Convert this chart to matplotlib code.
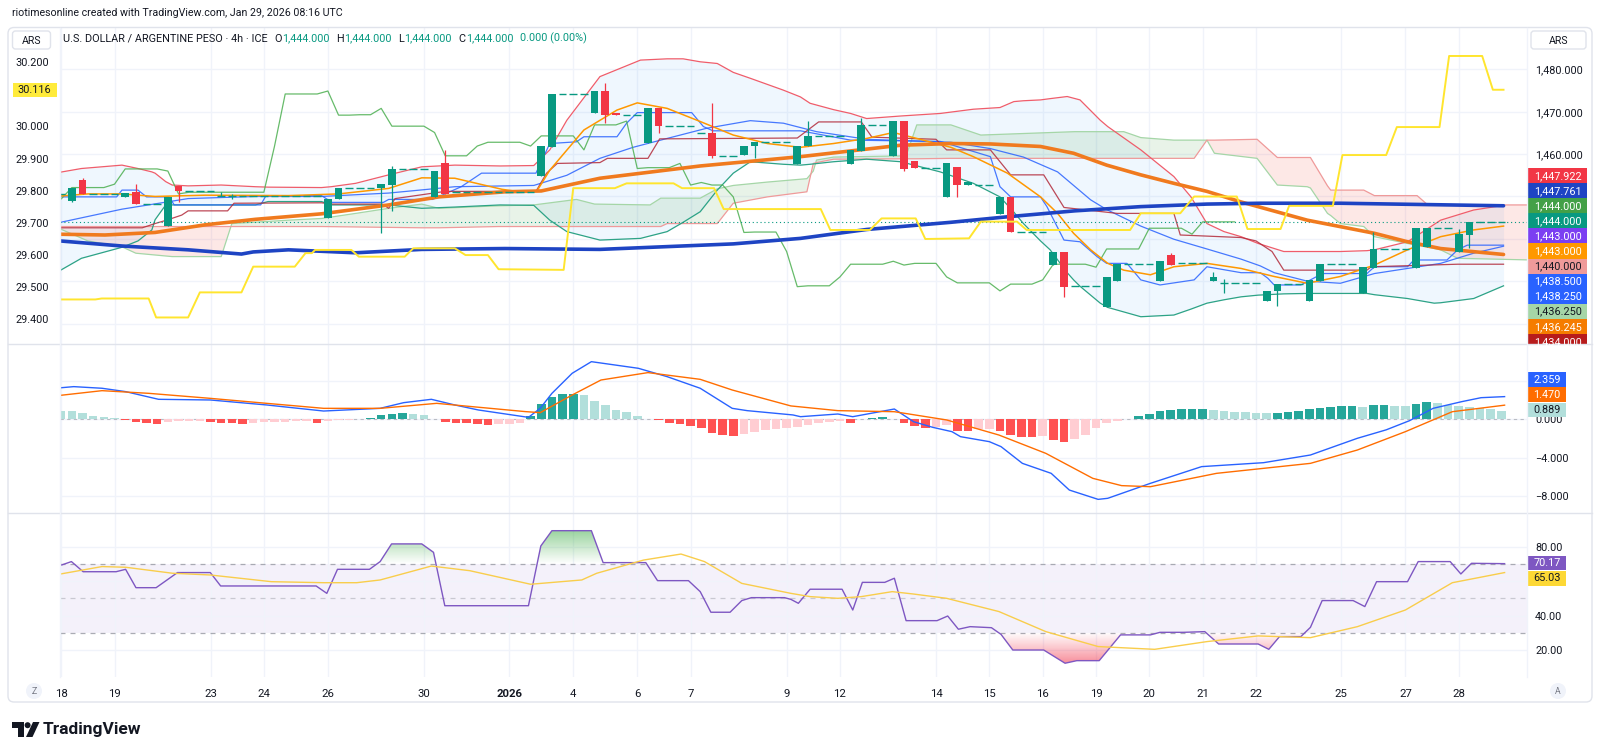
import matplotlib

matplotlib.use("Agg")

import matplotlib.pyplot as plt
import numpy as np
from matplotlib.colors import LinearSegmentedColormap
from matplotlib.patches import Circle, FancyBboxPatch, Polygon, Rectangle
from matplotlib.path import Path

plt.rcParams["font.family"] = ["Roboto", "DejaVu Sans"]

TEXT = "#131722"
UP = "#089981"
DOWN = "#F23645"
GRID = "#F0F3FA"
BORDER = "#E0E3EB"

# ---------------------------------------------------------------- candles (4h bars)
OPEN = [
    1450.6, 1449.0, 1453.9, 1450.5, 1450.5, 1450.5, 1449.9, 1451.0, 1448.3, 1448.3,
    1443.1, 1452.5, 1451.3, 1451.3, 1451.3, 1450.0, 1450.0, 1450.0, 1450.0, 1450.0,
    1450.0, 1450.0, 1450.0, 1450.0, 1450.0, 1445.0, 1449.4, 1452.1, 1452.1, 1452.1,
    1451.9, 1452.7, 1456.5, 1456.5, 1456.5, 1449.8, 1457.8, 1451.0, 1451.0, 1451.0,
    1451.0, 1451.0, 1451.0, 1451.0, 1451.0, 1454.8, 1461.7, 1474.2, 1474.2, 1474.2,
    1469.6, 1474.9, 1469.6, 1469.3, 1469.3, 1462.7, 1470.8, 1466.6, 1466.6, 1466.6,
    1465.1, 1464.9, 1459.6, 1459.6, 1459.7, 1461.8, 1462.8, 1462.8, 1462.8, 1457.7,
    1461.9, 1464.3, 1464.3, 1464.3, 1457.7, 1460.7, 1466.9, 1466.9, 1459.6, 1467.8,
    1458.4, 1456.8, 1456.8, 1449.8, 1456.9, 1452.7, 1452.7, 1452.7, 1445.9, 1449.9,
    1441.6, 1441.6, 1441.6, 1433.8, 1437.0, 1428.9, 1428.9, 1428.9, 1424.0, 1430.1,
    1434.0, 1434.0, 1434.0, 1430.1, 1436.2, 1434.2, 1434.2, 1434.2, 1430.1, 1429.6,
    1429.6, 1429.6, 1429.6, 1425.2, 1427.7, 1429.3, 1429.3, 1425.2, 1430.1, 1434.0,
    1434.0, 1434.0, 1427.1, 1433.0, 1437.6, 1437.6, 1437.6, 1433.0, 1438.0, 1442.5,
    1442.5, 1437.0, 1440.9, 1444.0, 1444.0, 1444.0,
]
HIGH = [
    1450.6, 1452.1, 1454.3, 1450.5, 1450.5, 1450.5, 1450.9, 1452.9, 1448.3, 1448.3,
    1449.9, 1452.5, 1451.3, 1451.3, 1451.3, 1451.1, 1450.6, 1450.0, 1450.0, 1450.0,
    1450.0, 1450.0, 1450.0, 1450.0, 1450.0, 1449.4, 1452.1, 1452.1, 1452.1, 1452.1,
    1452.9, 1457.2, 1456.5, 1456.5, 1456.5, 1456.0, 1461.0, 1451.0, 1451.0, 1451.0,
    1451.0, 1451.0, 1451.0, 1451.0, 1451.0, 1461.9, 1474.2, 1474.2, 1474.2, 1474.2,
    1474.9, 1476.7, 1469.6, 1469.3, 1469.3, 1470.8, 1470.8, 1466.6, 1466.6, 1466.6,
    1465.1, 1472.0, 1459.6, 1459.6, 1461.9, 1462.8, 1462.8, 1462.8, 1462.8, 1461.9,
    1467.8, 1464.3, 1464.3, 1464.3, 1461.0, 1468.5, 1466.9, 1466.9, 1467.8, 1467.8,
    1458.4, 1456.8, 1456.8, 1457.8, 1456.9, 1453.3, 1452.7, 1452.7, 1449.9, 1449.9,
    1441.6, 1441.6, 1441.6, 1437.0, 1437.0, 1428.9, 1428.9, 1428.9, 1431.0, 1434.0,
    1434.0, 1434.0, 1434.0, 1434.7, 1436.7, 1434.2, 1434.2, 1434.2, 1432.2, 1430.6,
    1429.6, 1429.6, 1429.6, 1427.7, 1429.3, 1429.3, 1429.3, 1430.3, 1434.0, 1434.0,
    1434.0, 1434.0, 1433.3, 1441.7, 1437.6, 1437.6, 1437.6, 1442.5, 1442.5, 1442.5,
    1442.5, 1442.2, 1444.0, 1444.0, 1444.0, 1444.0,
]
LOW = [
    1450.6, 1448.8, 1450.5, 1450.5, 1450.5, 1450.5, 1449.9, 1448.2, 1448.3, 1448.3,
    1443.1, 1448.6, 1451.3, 1451.3, 1451.3, 1450.0, 1449.3, 1450.0, 1450.0, 1450.0,
    1450.0, 1450.0, 1450.0, 1450.0, 1450.0, 1445.0, 1449.4, 1452.1, 1452.1, 1452.1,
    1441.3, 1446.6, 1456.5, 1456.5, 1456.5, 1449.8, 1450.6, 1451.0, 1451.0, 1451.0,
    1451.0, 1451.0, 1451.0, 1451.0, 1451.0, 1454.8, 1461.7, 1474.2, 1474.2, 1474.2,
    1469.6, 1467.3, 1469.2, 1469.3, 1469.3, 1462.7, 1465.1, 1466.6, 1466.6, 1466.6,
    1465.1, 1459.0, 1459.6, 1459.6, 1459.7, 1459.0, 1462.8, 1462.8, 1462.8, 1457.7,
    1461.9, 1464.3, 1464.3, 1464.3, 1457.7, 1460.7, 1466.9, 1466.9, 1459.6, 1456.1,
    1456.8, 1456.8, 1456.8, 1449.8, 1449.9, 1452.7, 1452.7, 1452.7, 1445.9, 1441.5,
    1441.6, 1441.6, 1441.6, 1433.8, 1426.3, 1428.9, 1428.9, 1428.9, 1424.0, 1430.1,
    1434.0, 1434.0, 1434.0, 1430.1, 1433.8, 1434.2, 1434.2, 1434.2, 1430.1, 1427.2,
    1429.6, 1429.6, 1429.6, 1425.2, 1424.1, 1429.3, 1429.3, 1425.2, 1430.1, 1434.0,
    1434.0, 1434.0, 1427.1, 1433.0, 1437.6, 1437.6, 1437.6, 1433.0, 1438.0, 1442.5,
    1442.5, 1437.0, 1437.8, 1444.0, 1444.0, 1444.0,
]
CLOSE = [
    1450.6, 1452.1, 1450.5, 1450.5, 1450.5, 1450.5, 1450.9, 1448.2, 1448.3, 1448.3,
    1449.9, 1451.3, 1451.3, 1451.3, 1451.3, 1450.0, 1450.0, 1450.0, 1450.0, 1450.0,
    1450.0, 1450.0, 1450.0, 1450.0, 1450.0, 1449.4, 1452.1, 1452.1, 1452.1, 1452.1,
    1452.9, 1456.5, 1456.5, 1456.5, 1456.5, 1456.0, 1450.6, 1451.0, 1451.0, 1451.0,
    1451.0, 1451.0, 1451.0, 1451.0, 1451.0, 1461.9, 1474.2, 1474.2, 1474.2, 1474.2,
    1474.9, 1469.2, 1469.2, 1469.3, 1469.3, 1470.8, 1466.6, 1466.6, 1466.6, 1466.6,
    1465.1, 1459.6, 1459.6, 1459.6, 1461.9, 1462.8, 1462.8, 1462.8, 1462.8, 1461.9,
    1464.3, 1464.3, 1464.3, 1464.3, 1461.0, 1466.9, 1466.9, 1466.9, 1467.8, 1456.6,
    1456.8, 1456.8, 1456.8, 1457.8, 1452.7, 1453.3, 1452.7, 1452.7, 1449.9, 1441.5,
    1441.6, 1441.6, 1441.6, 1437.0, 1428.7, 1428.9, 1428.9, 1428.9, 1431.0, 1434.0,
    1434.0, 1434.0, 1434.0, 1434.7, 1433.8, 1434.2, 1434.2, 1434.2, 1431.0, 1429.6,
    1429.6, 1429.6, 1429.6, 1427.7, 1429.3, 1429.3, 1429.3, 1430.3, 1434.0, 1434.0,
    1434.0, 1434.0, 1433.3, 1437.6, 1437.6, 1437.6, 1437.6, 1442.5, 1442.5, 1442.5,
    1442.5, 1441.1, 1444.0, 1444.0, 1444.0, 1444.0,
]
LAG_SHIFT = 25

# ---------------------------------------------------------------- overlay lines (bar index, value)
EMA200_X = [-0.6, 5.7, 11.9, 16.9, 18, 21.3, 27.6, 33.8, 41.6, 50.5, 63, 69.3, 75.5,
            83.4, 88.7, 95, 101.2, 107.4, 112.4, 119.9, 135.2]
EMA200_V = [1439.6, 1438.3, 1437.4, 1436.4, 1436.9, 1437.4, 1436.7, 1437.5, 1437.7, 1437.5,
            1438.8, 1440.1, 1442.2, 1443.9, 1445.2, 1446.6, 1447.6, 1448.2, 1448.4, 1448.4, 1447.8]

EMA50_X = [-0.6, 4.1, 8.8, 13.5, 18.2, 24.4, 30.7, 35.4, 41.6, 45, 50.5, 59.9, 69.3, 78.7,
           83.4, 87.1, 91.8, 94.9, 98.0, 101.2, 104.3, 107.4, 110.6, 116.8, 123.1, 126.2,
           129.3, 135.2]
EMA50_V = [1441.1, 1440.9, 1441.5, 1443.3, 1444.6, 1445.9, 1448.0, 1449.9, 1451.1, 1451.3,
           1454.3, 1457.2, 1459.4, 1462.1, 1462.5, 1462.4, 1461.8, 1460.2, 1457.4, 1455.1,
           1453.1, 1451.2, 1448.7, 1444.4, 1441.3, 1439.3, 1437.7, 1436.3]

FAST_X = [-0.6, 2.5, 5.7, 8.8, 13.5, 21.3, 26, 30.7, 33.8, 36.9, 41.3, 43, 44.6, 45.8, 49,
          52.1, 54, 56.8, 59.9, 63, 66.2, 69.3, 72.4, 75.5, 78, 80.2, 83.4, 85.5, 88.7, 91.8,
          93.4, 94.9, 96.5, 98.1, 99.6, 102.1, 104.3, 107.4, 110.6, 113.7, 116.8, 119.9,
          123.1, 126.2, 129.3, 132.4, 135.2]
FAST_V = [1450.0, 1450.6, 1450.6, 1450.0, 1450.3, 1450.2, 1450.6, 1451.9, 1454.4, 1454.3,
          1451.7, 1451.1, 1451.3, 1456.2, 1465.7, 1470.4, 1472.1, 1470.8, 1467.7, 1464.5,
          1462.5, 1461.6, 1462.5, 1463.7, 1465.1, 1463.7, 1461.6, 1459.4, 1455.5, 1449.9,
          1446.0, 1441.3, 1437.4, 1434.2, 1432.6, 1431.5, 1433.4, 1434.2, 1433.0, 1431.1,
          1429.5, 1431.1, 1433.8, 1437.4, 1440.5, 1442.1, 1443.0]

BASIS_X = [-0.6, 5.7, 11.9, 18.2, 24.4, 30.7, 36.9, 44.3, 47.4, 50.5, 53.6, 56.8, 60.5,
           64.6, 67.7, 70.8, 75.5, 83.4, 87.1, 90.2, 93.4, 96.5, 98.0, 101.2, 104.3, 107.4,
           110.6, 112.4, 113.7, 116.8, 119.9, 123.1, 126.2, 129.3, 132.4, 135.2]
BASIS_V = [1443.6, 1447.0, 1449.5, 1450.0, 1450.0, 1450.8, 1452.3, 1452.6, 1455.0, 1459.0,
           1461.6, 1463.7, 1466.1, 1467.9, 1467.3, 1465.3, 1463.5, 1462.8, 1461.3, 1459.3,
           1455.8, 1449.2, 1446.9, 1443.0, 1439.9, 1437.6, 1435.2, 1433.6, 1432.0, 1430.0,
           1429.5, 1431.8, 1433.0, 1434.2, 1436.6, 1438.25]

BB_X = [-0.6, 1.9, 5.7, 7.2, 8.5, 8.8, 9.8, 10.4, 11.9, 15, 18.2, 19.4, 24.4, 25.3, 27.6,
        30.7, 33.8, 36.9, 41.15, 44.3, 45.8, 47.4, 50.5, 54.3, 56.8, 58.3, 59.9, 61.5, 63,
        64.6, 67.7, 69.3, 70.2, 72.4, 74, 75.5, 78.7, 82.4, 85.5, 88, 89.3, 90.2, 91.8,
        92.7, 94.3, 94.9, 95.5, 97.4, 98.1, 101.2, 104.3, 105.9, 107.4, 109, 110.6, 112.2,
        114.6, 116.8, 119.9, 122.4, 123.1, 126.2, 128.7, 129.3, 132.4, 135.2]
BB_UP = [1455.5, 1456.6, 1457.4, 1456.6, 1455.8, 1455.5, 1453.5, 1452.7, 1452.5, 1452.7,
         1452.3, 1452.2, 1452.1, 1452.3, 1453.1, 1455.1, 1457.0, 1457.4, 1457.2, 1457.3,
         1461.0, 1468.0, 1478.3, 1482.2, 1482.5, 1482.5, 1481.8, 1481.4, 1479.3, 1477.9,
         1475.1, 1473.5, 1472.0, 1470.5, 1469.6, 1468.4, 1469.0, 1469.6, 1470.6, 1471.0,
         1472.4, 1472.6, 1472.8, 1473.1, 1473.6, 1473.2, 1472.8, 1468.0, 1466.5, 1461.0,
         1454.7, 1449.9, 1443.6, 1441.7, 1440.5, 1438.9, 1437.0, 1437.0, 1437.0, 1437.2,
         1437.4, 1439.3, 1443.4, 1444.4, 1446.8, 1447.9]
BB_LO = [1431.8, 1435.4, 1438.0, 1439.5, 1442.1, 1444.5, 1448.0, 1448.0, 1448.0, 1448.0,
         1448.0, 1448.8, 1448.8, 1448.0, 1448.0, 1448.0, 1447.2, 1447.5, 1448.0, 1447.9,
         1444.4, 1441.7, 1439.7, 1440.1, 1441.7, 1443.9, 1446.4, 1451.5, 1455.5, 1458.2,
         1457.6, 1457.4, 1457.6, 1458.2, 1458.5, 1458.8, 1458.2, 1455.8, 1453.1, 1449.9,
         1446.3, 1443.6, 1439.5, 1437.4, 1432.0, 1430.3, 1428.8, 1424.8, 1423.8, 1421.6,
         1422.0, 1423.4, 1424.8, 1425.6, 1426.3, 1426.7, 1427.0, 1427.1, 1427.1, 1427.1,
         1426.8, 1425.9, 1424.8, 1424.9, 1425.9, 1428.9]

CONV_X = [-0.6, 5.2, 5.7, 7.2, 8, 10.1, 10.6, 18.7, 19.2, 24.4, 25.4, 30.2, 30.7, 34.8,
          37.5, 39.4, 44.5, 45.8, 48.3, 49, 52.1, 53, 54, 59.1, 60.2, 61.1, 69.3, 74, 82.4,
          87.1, 88.0, 89, 91.8, 92.4, 94, 95.5, 97.1, 98, 99.9, 101.2, 103, 106.2, 107.4,
          110.6, 112.4, 113.1, 113.7, 116.2, 117.7, 118.4, 122.4, 123.1, 126.2, 126.8,
          129.9, 130.9, 131.8, 135.2]
CONV_V = [1449.9, 1449.9, 1451.5, 1451.5, 1449.9, 1449.9, 1448.0, 1448.0, 1450.2, 1450.2,
          1448.6, 1448.6, 1449.3, 1449.3, 1452.3, 1455.5, 1455.5, 1462.5, 1462.9, 1464.1,
          1464.1, 1467.3, 1469.8, 1469.8, 1466.5, 1465.5, 1465.5, 1463.3, 1463.0, 1459.4,
          1452.3, 1449.9, 1449.9, 1447.6, 1439.7, 1439.3, 1435.8, 1434.2, 1434.2, 1430.3,
          1429.1, 1430.3, 1433.4, 1432.0, 1432.0, 1430.7, 1429.1, 1429.1, 1431.1, 1431.8,
          1431.8, 1433.4, 1433.4, 1435.0, 1435.0, 1437.4, 1438.5, 1438.5]

BASE_X = [-0.6, 7.6, 8.8, 10, 11.3, 11.9, 15.6, 16.2, 24.4, 25.4, 30.1, 30.7, 31.3, 36,
          44.5, 45.5, 46.5, 50.5, 51.2, 55, 56.1, 69, 71, 75, 76, 82, 83, 87.1, 89, 92.1,
          94, 99, 104.3, 104.9, 110.6, 112, 113.5, 114.6, 122.4, 122.8, 130.9, 135.2]
BASE_V = [1442.6, 1442.6, 1443.6, 1444.5, 1445.6, 1446.6, 1446.6, 1448.4, 1448.5, 1448.2,
          1448.2, 1447.2, 1449.5, 1451.2, 1451.2, 1455.5, 1457.8, 1458.0, 1459.0, 1459.0,
          1463.6, 1463.8, 1467.6, 1467.6, 1464.0, 1463.5, 1461.0, 1461.0, 1455.1, 1455.1,
          1447.4, 1446.0, 1446.0, 1440.9, 1440.3, 1439.5, 1437.0, 1432.6, 1432.6, 1433.4,
          1434.0, 1434.0]

CLOUD_X = [-0.6, 2.5, 5.7, 7, 10.4, 15, 16, 21.3, 24.4, 27.6, 30.7, 33.8, 35.4, 41, 44.3,
           48.3, 50, 55.2, 56.2, 56.8, 59.9, 61.5, 63, 66.2, 69.9, 70.5, 70.8, 72.4, 79.2,
           80.2, 83.4, 86.2, 95, 99.6, 101.2, 104.3, 106.2, 107.4, 108.1, 112.1, 114, 116.8,
           117.1, 118.7, 119, 119.9, 122.1, 123.1, 126.2, 127.1, 128.1, 129.3, 130.9, 137.8]
SPAN_A = [1442.9, 1439.5, 1438.1, 1436.6, 1435.8, 1435.8, 1443.6, 1444.4, 1444.8, 1446.0,
          1447.2, 1448.2, 1447.2, 1447.8, 1448.0, 1449.3, 1448.2, 1448.0, 1449.6, 1449.6,
          1449.6, 1451.8, 1452.6, 1453.4, 1454.2, 1456.0, 1458.6, 1459.3, 1459.6, 1466.9,
          1466.9, 1464.5, 1465.3, 1465.3, 1463.9, 1463.3, 1463.3, 1463.3, 1460.2, 1459.0,
          1452.7, 1452.3, 1452.0, 1446.0, 1445.5, 1443.6, 1442.9, 1440.5, 1438.9, 1438.5,
          1438.0, 1437.4, 1435.4, 1435.0]
SPAN_B = [1442.9, 1442.9, 1442.9, 1442.9, 1442.9, 1442.9, 1442.9, 1442.9, 1442.9, 1442.8,
          1442.7, 1442.6, 1442.6, 1442.9, 1442.9, 1442.9, 1442.9, 1442.9, 1442.9, 1443.6,
          1443.6, 1443.6, 1448.4, 1449.9, 1451.1, 1457.8, 1458.0, 1458.8, 1458.9, 1458.9,
          1459.0, 1459.0, 1459.0, 1459.0, 1459.0, 1459.0, 1459.0, 1463.3, 1463.3, 1463.5,
          1459.2, 1459.2, 1459.2, 1452.5, 1451.5, 1451.5, 1451.5, 1450.2, 1450.2, 1450.2,
          1448.0, 1448.0, 1448.0, 1448.0]

# yellow comparison line, left scale
YEL_X = [-0.6, 3.2, 3.8, 8.2, 8.9, 11.9, 13.0, 16.9, 18.0, 21.9, 22.9, 23.5, 23.8, 27.2,
         27.9, 32.2, 33.0, 36.9, 37.9, 40.0, 41.0, 47.1, 48.0, 51.9, 53.0, 57.4, 58.2, 61.2,
         62.1, 71.2, 72.1, 75.8, 76.9, 80.1, 81.0, 85.1, 86.2, 89.6, 90.5, 100.2, 101.2,
         104.9, 106.2, 110.2, 111.2, 114.3, 115.1, 119.2, 120.1, 124.2, 125.2, 129.2, 130.1,
         133.2, 134.2, 135.2]
YEL_V = [29.462, 29.462, 29.465, 29.465, 29.406, 29.406, 29.484, 29.484, 29.564, 29.564,
         29.606, 29.606, 29.616, 29.616, 29.595, 29.595, 29.621, 29.621, 29.600, 29.600,
         29.556, 29.554, 29.808, 29.808, 29.823, 29.823, 29.808, 29.808, 29.743, 29.743,
         29.678, 29.678, 29.714, 29.714, 29.650, 29.652, 29.704, 29.704, 29.678, 29.678,
         29.730, 29.730, 29.782, 29.782, 29.681, 29.681, 29.753, 29.753, 29.911, 29.911,
         29.998, 29.998, 30.219, 30.219, 30.114, 30.114]

# ---------------------------------------------------------------- MACD
MACD_X = [-0.58, 1.18, 3.83, 6.04, 9.13, 13.98, 19.27, 24.6, 29.9, 32.1, 34.7, 36.9, 39.1,
          43.8, 44.9, 46.0, 47.9, 49.7, 54.1, 56.8, 59.9, 62.9, 64.3, 68.6, 69.3, 72.8, 74.2,
          78.1, 79.9, 81.7, 83.5, 84.3, 87.0, 88.1, 90.1, 92.8, 94.5, 97.2, 98.1, 102.1,
          106.9, 112.7, 117.1, 121.5, 124.2, 126.4, 128.6, 131.3, 133.1, 135.3]
MACD_V = [3.23, 3.40, 3.23, 2.88, 2.08, 2.01, 1.49, 0.86, 1.14, 1.73, 2.08, 1.49, 0.97,
          0.20, 1.14, 2.70, 4.79, 6.00, 5.31, 4.44, 3.23, 1.14, 0.90, 0.45, 0.27, 0.55, 0.27,
          1.07, -0.25, -0.84, -1.29, -1.81, -2.33, -2.85, -4.59, -5.63, -7.37, -8.34, -8.23,
          -6.67, -4.93, -4.52, -3.72, -1.98, -1.10, -0.14, 1.14, 1.84, 2.25, 2.36]
SIG_X = [-0.58, 3.83, 8.24, 13.98, 19.27, 24.6, 29.9, 35.2, 43.5, 44.9, 47.9, 50.6, 55.0,
         59.9, 62.9, 68.4, 72.8, 78.1, 83.0, 87.9, 92.3, 96.7, 99.4, 102.1, 108.3, 117.1,
         121.5, 126.0, 130.4, 135.3]
SIG_V = [2.43, 2.98, 2.70, 2.18, 1.66, 1.14, 1.14, 1.66, 0.80, 0.69, 2.53, 4.09, 4.86, 4.16,
         3.05, 1.39, 0.90, 0.79, -0.07, -1.64, -3.55, -6.15, -6.91, -7.02, -5.63, -4.59,
         -3.20, -1.29, 0.79, 1.47]
HIST = [
    0.90, 0.87, 0.62, 0.38, 0.24, 0.14, -0.05, -0.28, -0.38, -0.45,
    -0.28, -0.21, -0.18, -0.15, -0.28, -0.35, -0.38, -0.45, -0.38, -0.31,
    -0.28, -0.24, -0.21, -0.18, -0.35, -0.14, -0.07, -0.03, 0.02, 0.14,
    0.45, 0.55, 0.66, 0.55, 0.49, 0.03, -0.31, -0.35, -0.42, -0.52,
    -0.56, -0.52, -0.45, -0.42, 0.31, 1.59, 2.29, 2.60, 2.62, 2.53,
    1.94, 1.49, 0.97, 0.73, 0.35, 0.05, -0.05, -0.35, -0.52, -0.69,
    -0.94, -1.39, -1.63, -1.70, -1.53, -1.29, -1.11, -0.97, -0.90, -0.83,
    -0.59, -0.42, -0.28, -0.18, -0.38, 0.07, 0.17, 0.28, 0.05, -0.35,
    -0.69, -0.94, -0.83, -0.60, -1.18, -1.20, -1.04, -1.00, -1.18, -1.63,
    -1.81, -1.82, -1.78, -2.15, -2.36, -2.08, -1.63, -0.94, -0.42, -0.14,
    0.02, 0.35, 0.60, 0.82, 0.97, 1.05, 1.08, 1.09, 0.97, 0.85,
    0.80, 0.75, 0.70, 0.66, 0.70, 0.78, 0.85, 1.05, 1.20, 1.30,
    1.38, 1.39, 1.25, 1.50, 1.52, 1.40, 1.35, 1.60, 1.75, 1.65,
    1.50, 1.40, 1.30, 1.20, 1.05, 0.889,
]

# ---------------------------------------------------------------- RSI
RSI_X = [-0.58, 0.08, 0.96, 2.06, 5.15, 6.04, 7.01, 8.9, 10.9, 13.98, 14.95, 23.9, 24.9,
         25.9, 28.9, 29.9, 30.97, 33.8, 34.9, 35.96, 43.8, 44.96, 46.0, 49.7, 50.8, 54.8,
         55.9, 58.8, 59.9, 60.9, 62.7, 63.8, 64.7, 67.8, 68.4, 69.1, 70.2, 73.2, 74.2, 75.1,
         77.2, 78.1, 79.2, 82.1, 83.1, 84.1, 85.2, 87.2, 88.1, 89.2, 92.1, 94.1, 95.2, 97.3,
         99.3, 102.1, 103.0, 105.2, 107.2, 108.5, 112.2, 113.2, 114.2, 116.2, 117.1, 118.2,
         121.1, 122.2, 123.3, 126.2, 127.2, 130.2, 131.2, 132.2, 135.3]
RSI_V = [68.5, 69.5, 71.4, 65.5, 65.5, 66.9, 56.2, 56.2, 65.0, 65.0, 57.2, 57.2, 52.9, 66.9,
         66.9, 71.4, 81.7, 81.7, 76.8, 45.7, 45.7, 80.5, 89.4, 89.4, 70.8, 70.8, 60.3, 60.3,
         53.9, 41.9, 41.9, 48.7, 50.4, 50.4, 49.4, 47.1, 55.3, 55.3, 43.2, 59.3, 59.3, 61.7,
         37.0, 37.0, 39.7, 32.0, 33.5, 32.9, 29.0, 19.9, 19.9, 12.2, 13.7, 13.7, 28.7, 28.7,
         30.2, 30.2, 30.6, 23.4, 23.4, 20.3, 27.7, 27.7, 33.1, 48.7, 48.7, 45.2, 59.7, 59.7,
         71.4, 71.4, 64.2, 70.4, 70.2]
RSIMA_X = [-0.58, 3.83, 6.04, 10.45, 13.98, 19.7, 24.6, 27.7, 29.9, 34.7, 38.3, 44.0, 48.8,
           50.2, 54.6, 58.1, 60.3, 63.8, 68.4, 70.2, 72.8, 75.0, 77.9, 79.9, 83.0, 87.9,
           92.3, 97.2, 102.5, 107.4, 112.2, 117.1, 121.5, 126.0, 130.4, 135.3]
RSIMA_V = [63.6, 68.5, 68.1, 64.6, 63.6, 59.7, 59.1, 59.1, 60.7, 68.8, 66.1, 58.2, 60.7,
           64.6, 72.3, 75.8, 71.4, 58.7, 52.9, 51.0, 50.0, 51.0, 53.9, 52.5, 50.0, 42.3, 30.6,
           21.9, 20.3, 24.8, 28.1, 27.1, 33.5, 43.2, 59.1, 65.0]

# ---------------------------------------------------------------- axis text
TICK_IDX = [0, 5, 14, 19, 25, 34, 42, 48, 54, 59, 68, 73, 82, 87, 92, 97, 102, 107, 112,
            120, 126, 131]
TICK_LBL = ["18", "19", "23", "24", "26", "30", "2026", "4", "6", "7", "9", "12", "14",
            "15", "16", "19", "20", "21", "22", "25", "27", "28"]

MAIN_LBL = ["1,447.922", "1,447.761", "1,444.000", "1,444.000", "1,443.000", "1,443.000",
            "1,440.000", "1,438.500", "1,438.250", "1,436.250", "1,436.245", "1,434.000"]
MAIN_BG = ["#F23645", "#1E44C3", "#43A047", "#089981", "#7B3FF2", "#FF9800", "#EF9A9A",
           "#2962FF", "#2962FF", "#A5D6A7", "#F57C00", "#B71C1C"]
MAIN_FG = ["white", "white", "white", "white", "white", "white", TEXT, "white", "white",
           TEXT, "white", "white"]
MACD_LBL = ["2.359", "1.470", "0.889"]
MACD_BG = ["#2962FF", "#FF6D00", "#B2DFDB"]
MACD_FG = ["white", "white", TEXT]
RSI_LBL = ["70.17", "65.03"]
RSI_BG = ["#7E57C2", "#FDD835"]
RSI_FG = ["white", TEXT]

TITLE_PARTS = [
    ("U.S. DOLLAR / ARGENTINE PESO · 4h · ICE", TEXT, 0), ("O", TEXT, 5), ("1,444.000", UP, 0),
    ("H", TEXT, 5), ("1,444.000", UP, 0), ("L", TEXT, 5), ("1,444.000", UP, 0),
    ("C", TEXT, 5), ("1,444.000", UP, 0), ("0.000 (0.00%)", UP, 5),
]

# ---------------------------------------------------------------- figure
W, H = 1600, 756
XMIN, XMAX = -0.11, 137.4
fig = plt.figure(figsize=(W / 100, H / 100), dpi=100)
fig.patch.set_facecolor("white")


def pane(top, bottom):
    return fig.add_axes([60 / W, 1 - bottom / H, (1527 - 60) / W, (bottom - top) / H])


def style(a, ylim, ticks, labels):
    a.set_xlim(XMIN, XMAX)
    a.set_ylim(*ylim)
    for s in a.spines.values():
        s.set_visible(False)
    a.set_xticks(TICK_IDX)
    a.set_xticklabels([])
    a.yaxis.tick_right()
    a.set_yticks(ticks)
    a.set_yticklabels(labels)
    a.tick_params(length=0, labelsize=7.8, labelcolor=TEXT, pad=5.8)
    a.grid(True, color=GRID, lw=1)
    a.set_axisbelow(True)


ax = pane(28, 344)
ax_m = pane(344, 513)
ax_r = pane(513, 677)

# tick labels that sit under the value tags are left blank, as in the reference
main_ticks = [1420, 1430, 1440, 1450, 1460, 1470, 1480]
style(ax, (1415.16, 1489.78), main_ticks,
      [f"{v:,.3f}" if v >= 1460 else "" for v in main_ticks])
macd_ticks = [4, 0, -4, -8]
style(ax_m, (-9.76, 7.84), macd_ticks,
      ["" if v > 0 else f"{v:.3f}".replace("-", "\u2212") for v in macd_ticks])
rsi_ticks = [80, 60, 40, 20]
style(ax_r, (4.18, 99.7), rsi_ticks, ["" if v == 60 else f"{v:.2f}" for v in rsi_ticks])

# left scale for the yellow comparison line
ax_l = ax.twinx()
ax_l.set_ylim(29.3235, 30.306)
ax_l.yaxis.tick_left()
left_ticks = [29.4, 29.5, 29.6, 29.7, 29.8, 29.9, 30.0, 30.1, 30.2]
ax_l.set_yticks(left_ticks)
ax_l.set_yticklabels(["" if abs(v - 30.1) < 1e-6 else f"{v:.3f}" for v in left_ticks])
ax_l.tick_params(length=0, labelsize=7.8, labelcolor=TEXT, pad=7.7)
for s in ax_l.spines.values():
    s.set_visible(False)
ax.yaxis.tick_right()

idx = np.arange(len(CLOSE))

# Bollinger fill, Ichimoku cloud
ax.fill_between(BB_X, BB_UP, BB_LO, color="#2196F3", alpha=0.07, lw=0, zorder=1)
sa, sb = np.array(SPAN_A), np.array(SPAN_B)
ax.fill_between(CLOUD_X, sa, sb, where=sa >= sb, interpolate=True, color="#43A047",
                alpha=0.12, lw=0, zorder=1)
ax.fill_between(CLOUD_X, sa, sb, where=sa < sb, interpolate=True, color="#F44336",
                alpha=0.12, lw=0, zorder=1)
ax.plot(CLOUD_X, SPAN_A, color="#A5D6A7", lw=0.9, zorder=2)
ax.plot(CLOUD_X, SPAN_B, color="#EF9A9A", lw=0.9, zorder=2)

ax.plot(BB_X, BB_UP, color="#EF5D6B", lw=0.9, zorder=2)
ax.plot(BB_X, BB_LO, color="#2DA386", lw=0.9, zorder=2)
ax.plot(BASIS_X, BASIS_V, color="#2962FF", lw=0.9, alpha=0.85, zorder=2)
ax.plot(CONV_X, CONV_V, color="#2962FF", lw=0.9, alpha=0.85, zorder=2)
ax.plot(BASE_X, BASE_V, color="#B22A3A", lw=0.9, alpha=0.85, zorder=2)
ax.plot(idx - LAG_SHIFT, CLOSE, color="#4CAF50", lw=0.9, alpha=0.85, zorder=2)
ax.plot(FAST_X, FAST_V, color="#FF9800", lw=1.1, zorder=3)
ax.plot(EMA50_X, EMA50_V, color="#F07A1E", lw=2.6, solid_capstyle="round", zorder=4)
ax.plot(EMA200_X, EMA200_V, color="#1E44C3", lw=2.6, solid_capstyle="round", zorder=4)
ax.axhline(CLOSE[-1], color=UP, lw=0.8, ls=(0, (1, 2.5)), zorder=3)

# candles
o, h, l, c = (np.array(v) for v in (OPEN, HIGH, LOW, CLOSE))
col = np.where(c >= o, UP, DOWN)
ax.vlines(idx, l, h, colors=col, lw=0.9, zorder=5)
body = np.abs(c - o)
solid = body > 0.05
ax.bar(idx[solid], body[solid], bottom=np.minimum(o, c)[solid], width=0.72,
       color=col[solid], lw=0, zorder=6)
ax.hlines(o[~solid], idx[~solid] - 0.36, idx[~solid] + 0.36, colors=col[~solid], lw=1,
          zorder=6)

ax_l.plot(YEL_X, YEL_V, color="#FFE52E", lw=1.4, zorder=3)

# MACD
hist_cols = []
for k, v in enumerate(HIST):
    prev = HIST[k - 1] if k else v
    if v >= 0:
        hist_cols.append("#26A69A" if v > prev else "#B2DFDB")
    else:
        hist_cols.append("#FFCDD2" if v > prev else "#FF5252")
ax_m.bar(idx, HIST, width=0.8, color=hist_cols, lw=0, zorder=2)
ax_m.axhline(0, color="#9598A1", lw=0.8, ls=(0, (3, 3)), alpha=0.6, zorder=1)
ax_m.plot(MACD_X, MACD_V, color="#2962FF", lw=1, zorder=3)
ax_m.plot(SIG_X, SIG_V, color="#FF6D00", lw=1, zorder=3)

# RSI
ax_r.axhspan(30, 70, color="#7E57C2", alpha=0.08, lw=0, zorder=0)
for lvl, al in ((70, 0.8), (50, 0.45), (30, 0.8)):
    ax_r.axhline(lvl, color="#9598A1", lw=0.9, ls=(0, (4, 4)), alpha=al, zorder=1)


def gradient_fill(a, x, y, level, lo, hi, rgb, above):
    mask = y >= level if above else y <= level
    coll = a.fill_between(x, y, level, where=mask, interpolate=True,
                          facecolor="none", edgecolor="none")
    paths = coll.get_paths()
    if not paths:
        return
    clip = Path.make_compound_path(*paths)
    ramp = np.linspace(0, 1, 128).reshape(-1, 1)
    if not above:
        ramp = ramp[::-1]
    cmap = LinearSegmentedColormap.from_list("ramp", [(*rgb, 0.0), (*rgb, 0.62)])
    im = a.imshow(ramp, extent=[XMIN, XMAX, lo, hi], origin="lower", aspect="auto",
                  cmap=cmap, zorder=1, interpolation="bilinear")
    im.set_clip_path(clip, transform=a.transData)


rx, ry = np.array(RSI_X), np.array(RSI_V)
gradient_fill(ax_r, rx, ry, 70, 70, 91, (0.30, 0.70, 0.33), True)
gradient_fill(ax_r, rx, ry, 30, 11, 30, (0.95, 0.25, 0.33), False)
ax_r.plot(RSI_X, RSI_V, color="#7E57C2", lw=1, zorder=3)
ax_r.plot(RSIMA_X, RSIMA_V, color="#F9CD4B", lw=1, zorder=3)
ax_r.set_xlim(XMIN, XMAX)
ax_r.set_ylim(4.18, 99.7)

ax_r.set_xticklabels(TICK_LBL)
ax_r.tick_params(axis="x", labelsize=8.2, pad=8.5)
for t in ax_r.get_xticklabels():
    if t.get_text() == "2026":
        t.set_fontweight("bold")

# ---------------------------------------------------------------- overlay (pixel coords)
ov = fig.add_axes([0, 0, 1, 1], zorder=10)
ov.set_xlim(0, W)
ov.set_ylim(H, 0)
ov.axis("off")

ov.add_patch(FancyBboxPatch((8, 27.5), 1584, 674.5, boxstyle="round,pad=0,rounding_size=6",
                            ec=BORDER, fc="none", lw=1))
for y in (344, 513):
    ov.plot([8, 1592], [y, y], color=BORDER, lw=1)
for x in (60, 1527):
    ov.plot([x, x], [28, 677], color=GRID, lw=1)

ov.text(12, 13, "riotimesonline created with TradingView.com, Jan 29, 2026 08:16 UTC",
        fontsize=7.7, color=TEXT, va="center")

prev = ov.text(63, 38.5, TITLE_PARTS[0][0], color=TITLE_PARTS[0][1], fontsize=7.8,
               va="center")
for s, colr, gap in TITLE_PARTS[1:]:
    prev = ov.annotate(s, xy=(1, 0.5), xycoords=prev, xytext=(gap, 0),
                       textcoords="offset points", va="center", ha="left", color=colr,
                       fontsize=7.8)

for x0, w in ((12.5, 38), (1531, 55)):
    ov.add_patch(FancyBboxPatch((x0, 31), w, 18, boxstyle="round,pad=0,rounding_size=3",
                                ec=BORDER, fc="white", lw=1))
    ov.text(x0 + w / 2, 40.5, "ARS", fontsize=7.6, color=TEXT, ha="center", va="center")

# stacked value labels at the right edge
clip_main = Rectangle((1500, 28), 100, 316.5, transform=ov.transData)
for k, (s, bg, fg) in enumerate(zip(MAIN_LBL, MAIN_BG, MAIN_FG)):
    yc = 175.5 + 15.1 * k
    box = Rectangle((1527, yc - 7.6), 60, 15.2, fc=bg, ec="none")
    ov.add_patch(box)
    box.set_clip_path(clip_main)
    t = ov.text(1558, yc + 0.3, s, color=fg, fontsize=7.8, ha="center", va="center")
    t.set_clip_path(clip_main)

for labels, bgs, fgs, y0 in ((MACD_LBL, MACD_BG, MACD_FG, 379.7), (RSI_LBL, RSI_BG, RSI_FG, 563.0)):
    for k, (s, bg, fg) in enumerate(zip(labels, bgs, fgs)):
        yc = y0 + 15.1 * k
        ov.add_patch(Rectangle((1527, yc - 7.4), 39, 14.8, fc=bg, ec="none"))
        ov.text(1547, yc + 0.3, s, color=fg, fontsize=7.8, ha="center", va="center")

ov.add_patch(Rectangle((12.7, 82.7), 44, 14.6, fc="#FFEB3B", ec="none"))
ov.text(34.7, 90.3, "30.116", color=TEXT, fontsize=7.8, ha="center", va="center")

# corner buttons
for x, s in ((34, "Z"), (1558, "A")):
    ov.add_patch(Circle((x, 691), 8, fc="#F0F3FA", ec="none"))
    ov.text(x, 691.5, s, fontsize=6.3, color="#787B86", ha="center", va="center")

# TradingView logo
ov.add_patch(Polygon([(12, 722), (24, 722), (24, 737), (18, 737), (18, 728), (12, 728)],
                     closed=True, fc=TEXT, ec="none"))
ov.add_patch(Circle((27.6, 725.2), 3.0, fc=TEXT, ec="none"))
ov.add_patch(Polygon([(33, 722), (39.5, 722), (32.5, 737), (26, 737)], closed=True,
                     fc=TEXT, ec="none"))
ov.text(42.5, 729.8, "TradingView", fontsize=12.5, fontweight="bold", color=TEXT,
        va="center")

fig.savefig("out.png", dpi=100, facecolor="white")
